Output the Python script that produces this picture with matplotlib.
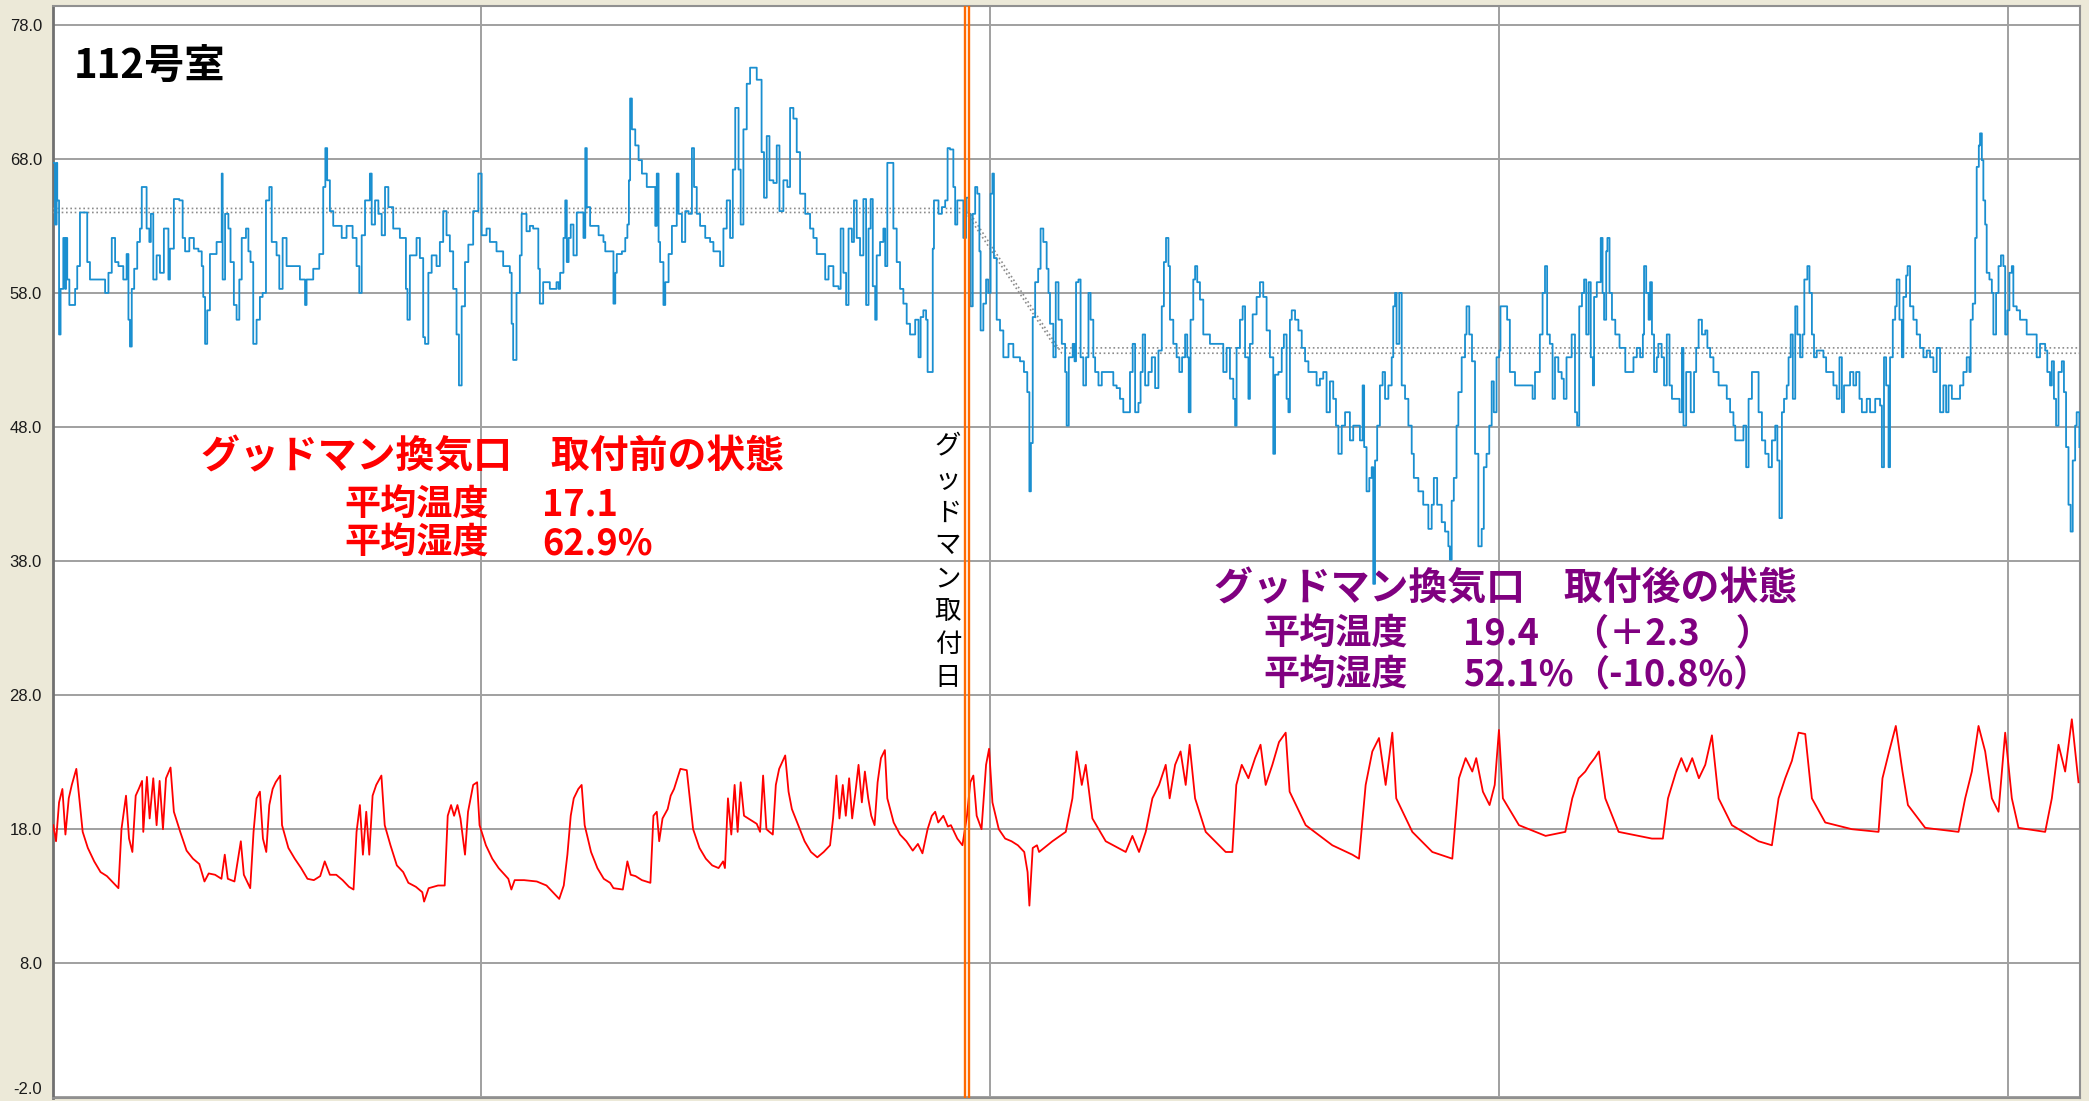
import matplotlib.pyplot as plt

plt.rcParams['font.family'] = ['Noto Sans CJK JP', 'DejaVu Sans']

# time axis in hours from the first sample
hum_t = [0.1, 0.65, 1.2, 1.4, 2.0, 2.5, 3.4, 4.0, 4.3, 4.7, 5.4, 6.7, 7.3, 8.0, 8.9, 10.6, 11.3, 12.2, 16.0, 17.2,
         18.3, 19.4, 20.5, 21.6, 23.2, 24.3, 24.9, 25.4, 26.0, 26.8, 27.8, 28.7, 29.3, 30.4, 30.9, 31.8, 32.3, 33.1,
         34.2, 35.3, 36.6, 38.1, 38.6, 39.9, 41.7, 42.8, 43.6, 45.0, 46.5, 48.0, 49.1, 49.6, 50.2, 50.9, 51.8, 54.0,
         55.7, 56.0, 56.8, 57.9, 58.6, 59.7, 60.6, 61.5, 62.3, 63.7, 64.5, 65.2, 66.1, 67.2, 68.3, 69.2, 70.3, 71.4,
         72.2, 73.8, 74.7, 75.8, 77.1, 80.6, 81.5, 83.2, 83.7, 85.9, 87.9, 89.2, 89.9, 90.5, 91.4, 92.5, 94.7, 95.3,
         96.9, 98.9, 100.2, 101.1, 101.9, 103.0, 104.6, 105.2, 106.3, 107.4, 108.5, 109.6, 110.7, 112.3, 114.5,
         116.5, 117.0, 117.8, 120.0, 121.1, 122.2, 122.8, 123.9, 125.0, 126.6, 127.7, 128.8, 129.9, 131.0, 132.1,
         133.2, 134.0, 134.9, 136.0, 137.1, 138.7, 140.4, 141.5, 143.1, 144.2, 146.4, 148.6, 150.8, 151.4, 151.9,
         153.0, 154.1, 154.7, 156.3, 157.4, 158.5, 160.2, 160.7, 161.8, 164.0, 166.2,
         166.9, 167.4, 168.5, 169.1, 169.6, 170.2, 170.9, 171.8, 172.9, 174.6, 175.1, 175.7, 176.2, 177.3, 180.1,
         181.7, 182.3, 184.5, 185.0, 185.6, 186.1, 187.8, 188.9, 189.6, 190.1, 190.5, 191.1, 192.2, 193.3, 194.4,
         196.0, 197.7, 198.8, 199.3, 199.9, 200.4, 201.5, 202.1, 203.2, 204.3, 205.9, 206.5, 207.6, 208.7, 209.8,
         210.9, 211.6, 212.5, 213.6, 215.3, 216.9, 218.0, 219.1, 220.2, 221.3, 222.4, 223.5, 224.4, 225.2, 226.3,
         227.0, 227.9, 229.0, 230.1, 231.4, 232.3, 233.4, 233.9, 234.7, 235.6, 236.5, 237.8, 238.9, 239.8, 241.1,
         242.4, 243.3, 244.4, 245.5, 246.6, 248.3, 249.9, 251.0, 252.1, 254.3, 254.9, 256.0, 257.6, 259.3, 260.0,
         260.9, 261.8, 262.6, 263.7, 264.4, 265.3, 266.4, 267.5, 268.4, 269.2, 269.9, 270.6, 271.4, 271.9, 273.0,
         274.1, 274.7, 275.4, 276.5, 277.4, 278.5, 279.6, 280.7, 281.8, 282.9, 284.6, 285.7, 286.4, 287.3, 288.2,
         288.7, 289.8, 290.4, 290.8, 292.3, 293.4, 294.5, 295.3, 296.1, 297.2, 297.8, 298.5, 300.0, 300.5, 301.4,
         302.2, 302.9, 303.6, 304.4, 305.1, 305.8, 306.2, 307.1, 308.0, 308.7, 309.5, 310.1, 310.6, 311.5, 312.6,
         313.7, 315.4, 317.0, 319.2, 320.5, 321.6, 322.3, 322.8, 323.4, 324.2, 325.2, 326.0, 326.9, 328.0, 328.6,
         329.1, 330.2, 331.0, 331.9, 333.0, 334.1, 334.6, 335.3,
         335.9, 336.6, 337.2, 337.7, 338.5, 339.2, 340.1, 341.0, 341.8, 342.5, 343.4, 344.0, 345.1, 346.2, 350.0,
         351.1, 352.2, 353.3, 354.4, 355.5, 356.4, 357.2, 358.3, 359.0, 359.7, 360.5, 361.6, 362.7, 363.8, 364.9,
         366.0, 366.7, 367.4, 368.2, 368.7, 369.8, 370.9, 371.8, 372.7, 373.7, 374.4, 374.9, 375.5, 376.4, 377.0,
         377.7, 378.6, 379.7, 381.9, 385.2, 386.3, 387.4, 388.5, 389.6, 390.2, 390.7, 391.8, 392.7, 393.5, 394.6,
         395.1, 396.0, 397.3, 398.4, 399.5, 400.6, 401.7, 402.8, 403.4, 404.5, 405.6, 406.3, 407.2, 407.8, 408.3,
         408.9, 410.0, 411.1, 412.2, 413.3, 414.4, 416.0, 417.1, 418.2, 419.3, 420.4, 421.5, 422.6, 423.5, 424.3,
         425.4, 426.5, 428.1, 429.2, 431.4, 432.3, 432.8, 433.6, 434.5, 435.3, 435.8, 436.4, 437.1, 438.0, 438.9,
         439.7, 440.8, 441.9, 442.4, 443.0, 443.5, 444.4, 445.2, 446.3, 447.4, 448.5, 449.2, 450.7, 452.3, 454.0,
         455.1, 455.8, 456.9, 458.4, 459.5, 460.6, 461.1, 461.7, 462.4, 463.3, 463.9, 465.0, 466.1, 466.6, 467.5,
         468.4, 469.4, 470.5, 471.6, 472.3, 473.2, 474.1, 474.9, 475.6, 476.5, 477.4, 477.8, 479.3, 480.0, 480.9,
         482.6, 487.5, 488.4, 489.2, 490.8, 491.7, 492.5, 493.2, 494.1, 495.0, 495.8, 496.9, 498.0, 498.7, 499.6,
         501.3, 502.4, 503.1, 503.8,
         504.7, 505.4, 506.1, 506.9, 507.6, 508.3, 508.7, 509.6, 510.9, 511.5, 512.0, 512.7, 513.1, 513.8, 514.6,
         515.7, 517.1, 519.0, 520.4, 521.7, 522.8, 523.9, 524.8, 525.2, 525.9, 526.7, 527.2, 527.8, 528.5, 529.4,
         529.9, 531.0, 531.8, 532.7, 533.6, 534.4, 536.0, 536.9, 537.7, 538.2, 539.1, 539.9, 540.6, 541.7, 542.4,
         543.2, 544.3, 545.4, 546.1, 547.0, 548.1, 549.8, 551.4, 552.5, 553.6, 554.7, 555.3, 556.9, 558.0, 558.9,
         559.7, 560.8, 561.9, 563.0, 564.1, 565.2, 566.3, 567.4, 568.5, 569.2, 569.9, 570.7, 571.4, 572.3, 572.9,
         573.6, 574.3, 575.1, 575.8, 576.7, 577.5, 578.1, 579.1, 579.8, 580.6, 581.3, 582.2, 584.4, 585.3, 586.6,
         587.7, 588.8, 589.7, 590.5, 591.2, 592.1, 593.2, 594.3, 595.2, 596.3, 597.1, 598.7, 599.8, 601.5, 603.1,
         603.7, 604.4, 605.1, 605.9, 606.4, 607.3, 608.1, 608.6, 609.5, 610.3, 610.8, 611.7, 612.2, 613.0, 614.1,
         615.2, 616.3, 617.4, 618.5, 619.6, 620.7, 621.8, 622.9, 624.0, 624.9, 625.7, 626.8, 628.2, 629.5, 630.6,
         631.7, 632.6, 633.0, 633.7, 634.5, 635.0, 635.7, 636.1, 636.7, 637.2, 637.8, 638.3, 639.2, 640.0, 640.5,
         641.4, 642.2, 643.0, 643.8, 644.4, 645.1, 645.8, 646.6, 647.1, 648.2, 649.3, 651.0, 651.5, 654.3, 654.8,
         655.9, 657.6, 658.3, 659.2, 659.8, 660.5, 661.2, 662.0, 663.1, 663.8, 664.5, 665.3, 666.0, 666.7, 667.5,
         668.0, 668.9]
hum_v = [67.7, 63.1, 67.7, 64.9, 54.9, 58.3, 62.1, 58.3, 62.1, 59.0, 57.1, 57.1, 58.3, 60.0, 64.0, 64.0, 60.3, 59.0, 59.0, 58.0,
         59.5, 62.1, 60.3, 60.0, 59.0, 60.9, 56.0, 54.0, 58.3, 59.8, 61.8, 62.8, 65.9, 65.9, 62.8, 61.8, 63.9, 59.0,
         60.8, 59.5, 62.8, 59.0, 61.3, 65.0, 64.9, 62.1, 61.1, 62.1, 61.3, 61.1, 60.0, 57.7, 54.2, 56.7, 60.9, 61.8,
         66.9, 59.0, 63.9, 62.8, 60.3, 57.1, 56.0, 59.0, 62.1, 62.8, 61.1, 60.3, 54.2, 56.0, 57.7, 58.0, 64.9, 65.9,
         61.8, 60.8, 58.3, 62.1, 60.0, 60.0, 59.0, 57.1, 59.0, 59.8, 60.9, 65.9, 68.8, 66.4, 64.1, 63.0, 63.0, 62.1,
         63.0, 62.1, 60.0, 58.0, 62.3, 64.9, 66.9, 63.1, 64.9, 63.9, 62.3, 65.9, 64.4, 62.8, 62.1,
         58.3, 56.0, 60.8, 62.1, 60.6, 54.7, 54.2, 59.5, 60.8, 60.0, 61.8, 64.1, 62.3, 61.1, 58.3,
         54.9, 51.1, 57.0, 60.3, 61.6, 64.1, 66.9, 62.3, 62.8, 61.8, 61.1, 60.0, 59.5, 55.7, 53.0,
         58.0, 60.8, 63.9, 62.6, 63.0, 62.8, 59.8, 57.2, 58.8, 58.3, 58.8,
         58.3, 59.5, 62.1, 64.9, 60.3, 62.1, 63.1, 60.8, 64.0, 64.0, 62.1, 68.8, 64.4, 63.0, 62.3,
         61.8, 61.1, 61.1, 57.2, 59.5, 60.9, 61.1, 62.1, 63.1, 66.4, 72.5, 70.2, 69.0, 67.9, 66.9,
         65.9, 65.9, 63.0, 66.9, 61.8, 60.3, 57.1, 58.8, 60.9, 63.0, 66.9, 63.9, 61.8, 64.1, 63.9,
         68.8, 65.9, 63.9, 63.0, 62.1, 61.8, 61.1, 61.1, 60.0, 62.8, 64.9, 62.1, 67.2, 71.8, 67.2,
         63.1, 70.2, 73.6, 74.8, 74.8, 73.9, 73.9, 68.5, 65.1, 69.7, 66.4, 66.2, 69.0, 64.1, 66.4,
         65.9, 71.8, 71.0, 68.5, 65.4, 63.9, 62.8, 62.1, 60.9, 60.9, 59.0, 60.0, 58.5, 58.3, 62.8,
         59.5, 57.1, 62.8, 61.8, 64.9, 62.1, 60.8, 65.0, 57.1, 62.8, 65.0, 58.5, 56.0, 60.8, 61.8,
         62.8, 60.0, 67.7, 67.7, 62.8, 60.3, 58.3, 57.2, 55.7, 54.9, 56.0, 53.2, 56.2, 56.7, 56.0,
         52.1, 52.1, 61.3, 64.9, 63.9, 64.4, 64.9, 68.8, 68.7, 65.9, 63.1, 64.9, 64.9, 62.1, 65.1,
         63.9, 57.0, 63.9, 65.9, 65.4, 61.1, 55.2, 57.2, 59.0, 58.0, 65.4, 66.9, 60.6, 56.0, 55.2,
         53.2, 54.2, 53.2, 52.9, 52.1, 50.6, 43.2, 46.8, 56.2, 58.8, 59.8, 62.8, 61.8, 59.8, 58.0,
         55.7, 53.2, 58.8, 56.0, 54.2, 52.1, 48.1, 53.2,
         53.2, 54.2, 52.9, 58.8, 59.0, 53.2, 51.1, 53.2, 58.0, 56.0, 53.2, 52.1, 51.1, 52.1, 51.1,
         50.9, 50.1, 49.1, 49.1, 52.1, 54.2, 49.1, 49.8, 52.1, 54.9, 51.1, 52.1, 53.2, 50.9, 53.7,
         57.0, 60.3, 62.1, 60.0, 56.0, 54.2, 53.2, 52.1, 53.2, 54.9, 53.2, 49.1, 56.0, 59.0, 60.0,
         58.8, 57.5, 54.9, 54.2, 54.2, 52.1, 53.9, 51.6, 50.1, 48.1, 53.9, 56.0, 57.0, 53.2, 50.1,
         54.2, 56.4, 57.7, 58.8, 57.7, 55.2, 53.2, 46.0, 51.9, 52.1, 53.9, 54.9, 50.1, 49.1, 56.0,
         56.7, 56.0, 55.2, 53.9, 52.9, 52.1, 52.1, 51.1, 51.6, 52.1, 49.1, 51.4, 50.1, 48.1, 46.0,
         48.1, 49.1, 47.0, 48.1, 47.0, 51.1, 46.5, 43.2, 44.2, 45.0, 36.3, 45.5, 48.1, 51.1, 52.1,
         50.1, 51.1, 53.2, 57.0, 58.0, 54.2, 58.0, 51.1, 50.1, 48.1, 46.0, 44.2, 43.2, 42.2, 40.4,
         42.2, 44.2, 42.2, 40.9, 40.2, 39.1, 38.1, 42.5, 44.2, 48.1, 50.6, 53.2, 54.9, 57.0, 54.9,
         52.9, 46.0, 39.1, 40.4, 45.0, 46.0, 48.1, 51.4, 49.1, 53.2, 53.7, 57.0, 57.0, 56.0, 52.1,
         51.1, 51.1, 50.1, 52.1, 54.9, 58.0, 60.0, 54.9, 54.2, 50.1, 53.2, 52.1, 51.6, 50.1, 53.2,
         54.9, 49.1, 48.1, 57.0,
         58.0, 59.0, 54.9, 58.8, 53.2, 51.1, 57.7, 58.8, 62.1, 58.0, 56.0, 61.1, 62.1, 58.0, 56.0,
         54.9, 53.9, 52.1, 52.1, 53.2, 53.9, 53.2, 54.9, 60.0, 58.0, 56.0, 58.8, 54.9, 52.1, 53.2,
         54.2, 53.2, 51.1, 54.9, 51.1, 50.1, 50.1, 49.1, 53.9, 48.1, 52.1, 52.1, 49.1, 52.1, 53.9,
         56.0, 54.9, 55.2, 53.9, 53.2, 52.1, 51.1, 51.1, 50.1, 49.1, 48.1, 47.0, 47.0, 48.1, 45.0,
         50.1, 52.1, 52.1, 49.1, 47.0, 46.0, 45.0, 47.0, 48.1, 45.5, 41.2, 49.1, 50.1, 51.1, 53.2,
         54.9, 50.1, 57.0, 54.9, 53.2, 54.9, 59.0, 60.0, 58.0, 54.9, 53.2, 53.7, 53.2, 52.1, 52.1,
         51.1, 50.1, 53.2, 49.1, 51.1, 51.1, 52.1, 51.1, 52.1, 50.1, 49.1, 50.1, 49.1, 50.1, 49.6,
         45.0, 53.2, 51.1, 45.0, 53.2, 56.0, 57.0, 59.0, 56.0, 53.2, 57.7, 59.3, 60.0, 57.0, 56.0,
         54.9, 53.9, 53.2, 53.7, 53.2, 52.1, 53.9, 49.1, 51.1, 49.1, 51.1, 50.1, 50.1, 51.1, 52.1,
         53.2, 52.1, 56.0, 57.2, 62.1, 67.4, 69.0, 69.9, 67.9, 64.9, 63.1, 59.5, 59.0, 58.0, 54.9,
         58.0, 60.0, 60.8, 60.0, 54.9, 56.7, 59.5, 60.0, 57.0, 56.7, 56.0, 56.0, 54.9, 54.9, 53.2,
         54.2, 53.7, 52.1, 51.1, 52.9, 50.1, 48.1, 52.1, 52.9, 50.6, 46.5, 42.2, 40.2, 45.5, 48.1,
         49.1, 46.5]

temp_t = [0.1, 1.0, 2.0, 3.1, 4.1, 5.2, 6.2, 7.7, 8.7, 9.8,
          11.5, 13.6, 15.7, 17.8, 19.9, 21.6, 22.6, 24.1, 25.1, 26.2,
          27.3, 28.3, 29.4, 29.8, 31.0, 31.9, 33.1, 34.2, 35.2, 36.3,
          37.3, 38.8, 39.9, 42.0, 44.1, 46.2, 48.3, 50.0, 51.4, 53.5,
          55.6, 56.7, 57.7, 59.9, 62.0, 63.0, 65.1, 66.2, 67.2, 68.3,
          69.3, 70.4, 71.4, 72.5, 73.5, 75.0, 75.6, 77.7, 79.8, 81.9,
          84.0, 86.1, 88.2, 89.7, 91.4, 93.5, 95.6, 97.7, 99.2, 100.2,
          101.3, 102.3, 103.4, 104.4, 105.5, 106.7, 108.4, 109.5, 111.4, 113.5,
          115.6, 117.3, 119.8, 121.9, 122.5, 124.0, 127.1, 129.3, 130.3, 131.4,
          132.4, 133.5, 134.5, 136.0, 137.0, 138.7, 140.0, 140.8, 142.9, 145.0,
          147.1, 150.3, 151.3, 152.4, 155.5, 159.7, 162.9, 165.0, 167.1, 168.6,
          169.8, 170.9, 171.9, 173.4, 174.5, 175.5, 177.6, 179.7, 181.8, 183.9,
          185.0, 188.1, 189.6, 190.7, 192.3, 194.4, 197.2, 198.2, 199.3, 200.1,
          201.2, 202.9, 203.9, 205.0, 207.1, 209.2, 210.2, 211.3, 213.4, 215.5,
          217.6, 219.7, 221.2, 221.8, 222.8, 223.9, 225.0, 226.0, 227.0, 228.1,
          230.2, 232.3, 233.4, 234.4, 235.5, 236.5, 237.6, 238.6, 239.7, 241.7,
          242.8, 243.9, 246.0, 248.1, 250.2, 252.3, 254.4, 256.5, 257.5, 258.6,
          259.6, 260.7, 261.7, 262.8, 263.8, 264.9, 265.9, 267.0, 268.0, 269.1,
          270.1, 271.2, 272.2, 273.3, 274.6, 275.4, 277.5, 279.6, 281.7, 283.8,
          285.5, 287.0, 288.7, 290.1, 291.2, 292.2, 293.9, 295.4, 296.4, 298.5,
          300.2, 301.7, 302.8, 303.8, 304.9, 306.5, 308.0, 309.0, 310.1, 312.2,
          314.3, 316.4, 318.5, 320.6, 321.7, 322.3, 323.4, 324.8,
          325.5, 329.9, 334.3, 336.5, 337.9, 339.6, 340.9, 343.1, 347.5, 354.1,
          356.3, 358.5, 360.7, 362.9, 365.1, 367.3, 368.6, 370.4, 372.2, 373.9,
          375.2, 377.0, 380.5, 387.1, 389.3, 390.6, 392.4, 394.6, 396.8, 398.6,
          400.3, 402.5, 404.7, 406.9, 408.2, 413.5, 422.3, 428.9, 431.1, 433.3,
          435.5, 437.7, 439.9, 442.1, 443.4, 448.7, 455.3, 461.9, 464.1, 466.3,
          468.5, 469.8, 472.0, 474.2, 475.9, 477.3, 478.6, 483.9, 492.7, 499.2,
          501.5, 503.6, 505.8, 507.2, 508.9, 510.3, 512.4, 516.8, 527.8, 531.4,
          533.1, 535.8, 537.5, 539.3, 541.1, 543.3, 545.4, 547.6, 549.8, 554.2,
          563.0, 567.4, 569.6, 571.8, 574.0, 576.2, 578.4, 580.6, 585.0, 593.8,
          602.6, 603.9, 606.1, 608.3, 610.5, 612.3, 618.0, 629.0, 631.2, 633.4,
          635.6, 637.8, 640.0, 642.2, 644.4, 646.6, 648.8, 657.6, 659.8, 662.0,
          664.2, 666.4, 668.6]
temp_v = [18.3, 17.1, 20.0, 21.0, 17.6, 20.3, 21.3, 22.5, 20.3, 17.8,
          16.6, 15.6, 14.8, 14.5, 14.0, 13.6, 18.0, 20.5, 17.3, 16.3,
          20.5, 21.0, 21.6, 17.8, 21.9, 18.8, 21.8, 18.3, 21.6, 18.0,
          21.8, 22.6, 19.3, 17.8, 16.4, 15.8, 15.4, 14.1, 14.7, 14.6,
          14.3, 16.1, 14.3, 14.1, 17.1, 14.6, 13.6, 17.8, 20.3, 20.8,
          17.3, 16.3, 19.8, 21.0, 21.5, 22.0, 18.3, 16.6, 15.8, 15.1,
          14.3, 14.2, 14.5, 15.6, 14.6, 14.6, 14.2, 13.7, 13.5, 17.8,
          19.8, 16.1, 19.3, 16.1, 20.5, 21.3, 22.0, 18.3, 16.8, 15.3,
          14.8, 14.0, 13.7, 13.3, 12.6, 13.6, 13.8, 13.8, 19.0, 19.8,
          19.0, 19.8, 18.8, 16.1, 19.3, 21.3, 21.5, 18.3, 16.8, 15.8,
          15.1, 14.3, 13.5, 14.2, 14.2, 14.1, 13.8, 13.3, 12.8, 13.8,
          16.1, 19.0, 20.3, 21.0, 21.3, 18.3, 16.3, 15.1, 14.3, 14.0,
          13.6, 13.5, 15.6, 14.6, 14.5, 14.2, 14.0, 19.0, 19.3, 17.1,
          18.8, 19.5, 20.5, 21.0, 22.5, 22.4, 20.3, 18.0, 16.6, 15.8,
          15.3, 15.1, 15.6, 15.1, 20.3, 17.6, 21.3, 17.8, 21.5, 19.0,
          18.7, 18.4, 17.8, 22.0, 18.0, 17.8, 17.6, 21.3, 22.5, 23.5,
          20.8, 19.5, 18.3, 17.1, 16.3, 15.9, 16.3, 16.8, 18.8, 22.0,
          18.8, 21.3, 19.0, 21.8, 18.8, 20.8, 22.8, 20.0, 22.3, 20.3,
          19.0, 18.3, 21.5, 23.3, 23.9, 20.3, 18.5, 17.6, 17.1, 16.4,
          16.9, 16.2, 18.0, 19.0, 19.3, 18.5, 19.0, 18.2, 18.3, 17.3,
          16.8, 19.0, 21.5, 22.0, 19.0, 18.0, 22.8, 24.0, 20.0, 18.0,
          17.3, 17.1, 16.8, 16.3, 14.8, 12.3, 16.6, 16.8,
          16.3, 17.1, 17.8, 20.3, 23.8, 21.3, 22.8, 18.8, 17.1, 16.3,
          17.5, 16.3, 17.8, 20.3, 21.3, 22.8, 20.3, 22.8, 23.8, 21.3,
          24.3, 20.3, 17.8, 16.3, 16.3, 21.3, 22.8, 21.8, 23.3, 24.3,
          21.3, 22.8, 24.5, 25.2, 20.8, 18.3, 16.8, 16.1, 15.8, 21.3,
          23.8, 24.8, 21.3, 25.2, 20.3, 17.8, 16.3, 15.8, 21.8, 23.3,
          22.3, 23.3, 20.8, 19.8, 21.3, 25.4, 20.3, 18.3, 17.5, 17.8,
          20.3, 21.8, 22.3, 22.8, 23.3, 23.8, 20.3, 17.8, 17.3, 17.3,
          20.3, 22.3, 23.3, 22.3, 23.3, 21.8, 22.8, 25.0, 20.3, 18.3,
          17.1, 16.8, 20.3, 21.8, 23.1, 25.2, 25.1, 20.3, 18.5, 18.0,
          17.8, 21.8, 23.8, 25.7, 22.3, 19.8, 18.1, 17.8, 20.3, 22.3,
          25.7, 23.8, 20.3, 19.3, 25.2, 20.3, 18.1, 17.8, 20.3, 24.3,
          22.3, 26.2, 21.5]

# dotted mean-level guides (before / after installation)
avg_t1 = [0, 300.5, 331.0, 669.1]
avg_v1 = [64.3, 64.3, 53.9, 53.9]
avg_t2 = [0, 302.5, 333.0, 669.1]
avg_v2 = [64.0, 64.0, 53.5, 53.5]

install_t = [300.9, 302.4]
week_ticks = [141.4, 309.4, 477.4, 645.4]
y_ticks = [-2, 8, 18, 28, 38, 48, 58, 68, 78]

fig = plt.figure(figsize=(20.89, 11.01), dpi=100, facecolor='#ece9d8')
ax = fig.add_axes([53 / 2089, 3 / 1101, 2027 / 2089, 1092 / 1101])
ax.set_facecolor('white')

ax.set_xlim(0, 669.1)
ax.set_ylim(-2.05, 79.4)
ax.set_xticks(week_ticks)
ax.set_xticklabels([])
ax.set_yticks(y_ticks)
ax.set_yticklabels(['%.1f' % v for v in y_ticks], family='Liberation Sans', fontsize=12, color='#1a1a1a')
ax.tick_params(length=0, pad=8)
ax.get_yticklabels()[0].set_va('bottom')
ax.grid(True, color='#a0a0a0', lw=1.4)
ax.set_axisbelow(True)
for s in ax.spines.values():
    s.set_color('#909090')
    s.set_linewidth(1.5)
ax.spines['left'].set_color('#707070')
ax.spines['left'].set_linewidth(2)

ax.plot(avg_t1, avg_v1, color='#8c8c8c', lw=1.2, ls=(0, (1, 1.6)), zorder=3)
ax.plot(avg_t2, avg_v2, color='#8c8c8c', lw=1.2, ls=(0, (1, 1.6)), zorder=3)
ax.plot(hum_t, hum_v, color='#1a8fd0', lw=1.3, drawstyle='steps-post', zorder=4)
ax.plot(temp_t, temp_v, color='#ff0000', lw=1.3, zorder=4)
for t in install_t:
    ax.axvline(t, color='#ff6a00', lw=1.7, zorder=5)

ax.text(6.9, 74.8, '112号室', fontsize=29, fontweight='bold', va='center', ha='left')

red = '#ff0000'
ax.text(145.2, 45.8, 'グッドマン換気口　取付前の状態', color=red, fontsize=28, fontweight='bold',
        ha='center', va='center')
ax.text(96.1, 42.2, '平均温度', color=red, fontsize=26, fontweight='bold', va='center')
ax.text(161.4, 42.2, '17.1', color=red, fontsize=26, fontweight='bold', va='center')
ax.text(96.1, 39.3, '平均湿度', color=red, fontsize=26, fontweight='bold', va='center')
ax.text(161.4, 39.3, '62.9%', color=red, fontsize=26, fontweight='bold', va='center')

pur = '#800080'
ax.text(479.5, 35.9, 'グッドマン換気口　取付後の状態', color=pur, fontsize=28, fontweight='bold',
        ha='center', va='center')
ax.text(399.4, 32.57, '平均温度', color=pur, fontsize=26, fontweight='bold', va='center')
ax.text(465.4, 32.57, '19.4', color=pur, fontsize=26, fontweight='bold', va='center')
ax.text(501.8, 32.57, '（＋2.3　）', color=pur, fontsize=26, fontweight='bold', va='center')
ax.text(399.4, 29.5, '平均湿度', color=pur, fontsize=26, fontweight='bold', va='center')
ax.text(465.4, 29.5, '52.1%', color=pur, fontsize=26, fontweight='bold', va='center')
ax.text(501.8, 29.5, '（-10.8%）', color=pur, fontsize=26, fontweight='bold', va='center')

ax.text(295.4, 37.9, '\n'.join('グッドマン取付日'), fontsize=19, ha='center', va='center',
        linespacing=1.28, zorder=6)

fig.savefig('out.png', dpi=100, facecolor=fig.get_facecolor())
